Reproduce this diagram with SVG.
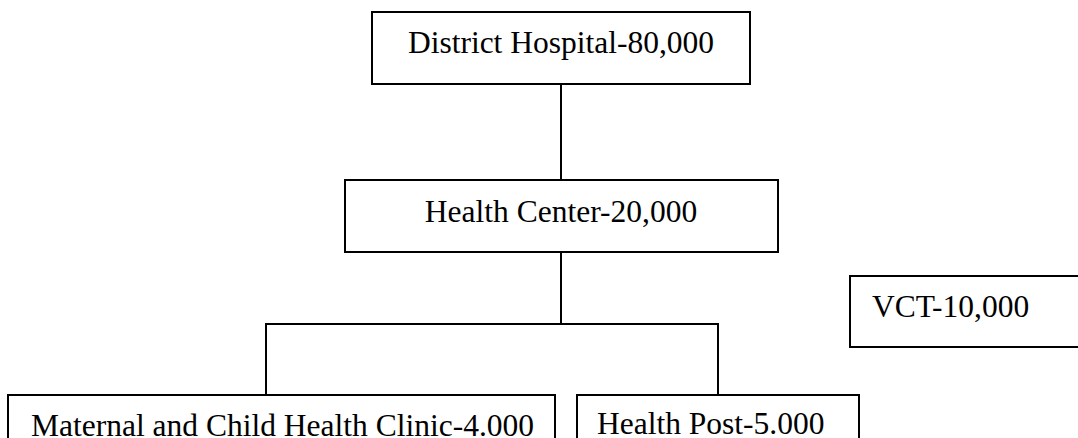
<svg xmlns="http://www.w3.org/2000/svg" width="1078" height="438" viewBox="0 0 1078 438">
<style>
.box{fill:#fff;stroke:#000;stroke-width:2}
.ln{stroke:#000;stroke-width:2;fill:none}
.t{font-family:"Liberation Serif","Times New Roman",serif;font-size:31.5px;fill:#000}
</style>
<rect width="1078" height="438" fill="#fff"/>
<g id="connectors">
<line class="ln" x1="561" y1="84" x2="561" y2="180"/>
<line class="ln" x1="561" y1="252" x2="561" y2="324"/>
<polyline class="ln" points="266,395 266,324 718,324 718,395"/>
</g>
<g id="district">
<rect class="box" x="372" y="12" width="378" height="72"/>
<text class="t" x="561" y="53" text-anchor="middle">District Hospital-80,000</text>
</g>
<g id="center">
<rect class="box" x="345" y="180" width="433" height="72"/>
<text class="t" x="561" y="222" text-anchor="middle">Health Center-20,000</text>
</g>
<g id="vct">
<rect class="box" x="850" y="276" width="240" height="71"/>
<text class="t" x="872" y="317">VCT-10,000</text>
</g>
<g id="mch">
<rect class="box" x="8" y="395" width="547" height="60"/>
<text class="t" x="31" y="436">Maternal and Child Health Clinic-4.000</text>
</g>
<g id="post">
<rect class="box" x="577" y="395" width="282" height="60"/>
<text class="t" x="597" y="434">Health Post-5.000</text>
</g>
</svg>
